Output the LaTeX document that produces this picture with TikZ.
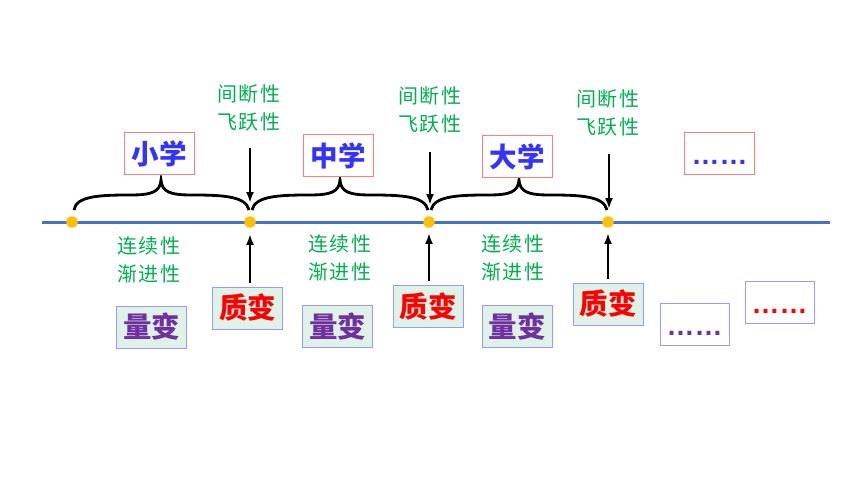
\documentclass[tikz,border=0pt]{standalone}
\usepackage{fontspec}
\usepackage{tikz}
\usetikzlibrary{arrows.meta}
\setmainfont{Noto Sans CJK SC}
\newfontfamily\latinsans{Liberation Sans}

\definecolor{lineblue}{RGB}{68,114,196}
\definecolor{dotyellow}{RGB}{255,192,0}
\definecolor{boxred}{RGB}{255,124,128}
\definecolor{boxblue}{RGB}{153,153,255}
\definecolor{boxfill}{RGB}{222,242,232}
\definecolor{txtblue}{RGB}{51,51,255}
\definecolor{txtgreen}{RGB}{0,176,80}
\definecolor{txtred}{RGB}{255,0,0}
\definecolor{txtpurple}{RGB}{112,48,160}

\tikzset{
  dot/.style={circle,fill=dotyellow,inner sep=0pt,minimum size=11.5},
  stagebox/.style={draw=boxred,line width=1,fill=white,minimum width=70,minimum height=42,inner sep=0pt,
    text=txtblue,font=\fontsize{27.5}{27.5}\selectfont\bfseries},
  changebox/.style={draw=boxblue,line width=1,fill=boxfill,minimum width=70,minimum height=42,inner sep=0pt,
    font=\fontsize{28.5}{28.5}\selectfont\bfseries},
  morebox/.style={draw=boxblue,line width=1,fill=white,minimum width=69,minimum height=42,inner sep=0pt},
  moredots/.style={font=\fontsize{28}{28}\selectfont\latinsans\bfseries,text height=22,text depth=0},
  greentext/.style={text=txtgreen,align=center,font=\fontsize{20}{28}\selectfont\addfontfeature{LetterSpace=9}},
  jump/.style={draw=black,line width=2.4,-{Latex[length=11,width=8]}},
  brace/.style={draw=black,line width=2.8}
}

\begin{document}
\begin{tikzpicture}[x=1pt,y=1pt,yscale=-1,xscale=1]
\useasboundingbox (0,0) rectangle (860,484);

%Straight Lines: time axis
\draw [color=lineblue,line width=3]    (42,222) -- (830,222) ;

% Dots on the axis
\node [dot] (d1) at (72,222) {};
\node [dot] (d2) at (250,222) {};
\node [dot] (d3) at (429,222) {};
\node [dot] (d4) at (608,222) {};

%Curve Lines: braces
\draw [brace]  (74,210) .. controls (76,196) and (100,195) .. (130,195) .. controls (152,195) and (160,192) .. (161,180) .. controls (162,192) and (170,195) .. (192,195) .. controls (222,195) and (246,196) .. (249,210) ;
\draw [brace]  (252,210) .. controls (255,196) and (279,195) .. (309,195) .. controls (331,195) and (339,192) .. (340,180) .. controls (341,192) and (349,195) .. (371,195) .. controls (401,195) and (425,196) .. (428,210) ;
\draw [brace]  (431,210) .. controls (434,196) and (458,195) .. (488,195) .. controls (510,195) and (518,192) .. (519,180) .. controls (520,192) and (528,195) .. (550,195) .. controls (580,195) and (604,196) .. (607,210) ;

% Stage boxes
\node [stagebox] (s1) at (159,154) {小学};
\node [stagebox] (s2) at (338,155.5) {中学};
\node [stagebox] (s3) at (517,156.5) {大学};
\node [stagebox,moredots] (s4) at (719.5,154) {……};

% Text Node: qualitative change features
\node [greentext] (j1) at (249,108) {间断性\\飞跃性};
\node [greentext] (j2) at (430,110) {间断性\\飞跃性};
\node [greentext] (j3) at (608,113) {间断性\\飞跃性};

% Text Node: quantitative change features
\node [greentext] (c1) at (149,259.5) {连续性\\渐进性};
\node [greentext] (c2) at (340,258) {连续性\\渐进性};
\node [greentext] (c3) at (513,258) {连续性\\渐进性};

% Qualitative change boxes
\node [changebox,text=txtred] (q1) at (247.5,308) {质变};
\node [changebox,text=txtred] (q2) at (428,306.5) {质变};
\node [changebox,text=txtred] (q3) at (608,304) {质变};

% Quantitative change boxes
\node [changebox,text=txtpurple] (l1) at (151.5,327) {量变};
\node [changebox,text=txtpurple] (l2) at (337.5,326.5) {量变};
\node [changebox,text=txtpurple] (l3) at (517,326.5) {量变};

% More boxes
\node [morebox,moredots,text=txtpurple] (m1) at (694.5,324) {……};
\node [morebox,moredots,text=txtred] (m2) at (779.5,302.5) {……};

%Straight Lines: arrows down
\coordinate (a1) at (250,148);
\coordinate (a2) at (430,152);
\coordinate (a3) at (609,154);
\draw [jump,shorten >=13]  (a1) -- (a1 |- d2.north) ;
\draw [jump,shorten >=11]  (a2) -- (a2 |- d3.north) ;
\draw [jump,shorten >=7]  (a3) -- (a3 |- d4.north) ;

%Straight Lines: arrows up
\draw [jump,shorten <=4,shorten >=6]  (q1.north -| d2) -- (d2.south) ;
\draw [jump,shorten <=4,shorten >=5]  (q2.north -| d3) -- (d3.south) ;
\draw [jump,shorten <=4,shorten >=5]  (q3.north -| d4) -- (d4.south) ;

\end{tikzpicture}
\end{document}
